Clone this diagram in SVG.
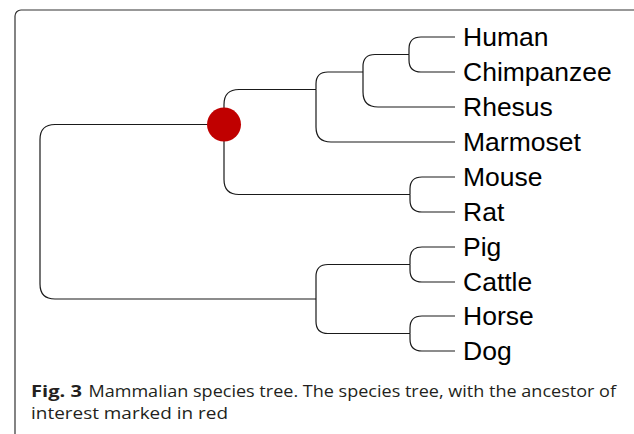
<svg xmlns="http://www.w3.org/2000/svg" width="634" height="434" viewBox="0 0 634 434">
<style>
.e{fill:none;stroke:#1a1a1a;stroke-width:1.2}
.lbl{font-family:"Liberation Sans",Arial,sans-serif;font-size:26.5px;fill:#000}
.cap{font-family:"Open Sans","Noto Sans",sans-serif;font-size:16.5px;fill:#231f20}
.capb{font-weight:bold}
</style>
<rect x="0" y="0" width="634" height="434" fill="#fff"/>
<rect x="15" y="10" width="700" height="500" rx="6" fill="none" stroke="#333" stroke-width="1.2"/>
<g id="connectors">
<path class="e" d="M40 212 V139.5 Q40 124.5 55 124.5 H224"/>
<path class="e" d="M40 212 V284 Q40 299 55 299 H316"/>
<path class="e" d="M224 124.5 V104.5 Q224 89.5 239 89.5 H316"/>
<path class="e" d="M224 124.5 V179.5 Q224 194.5 239 194.5 H410"/>
<path class="e" d="M316 89.5 V84 Q316 72 328 72 H363"/>
<path class="e" d="M316 89.5 V127 Q316 142 331 142 H455"/>
<path class="e" d="M363 72 V66.5 Q363 54.5 375 54.5 H409"/>
<path class="e" d="M363 72 V92 Q363 107 378 107 H455"/>
<path class="e" d="M409 54.5 V49 Q409 37 421 37 H455"/>
<path class="e" d="M409 54.5 V60 Q409 72 421 72 H455"/>
<path class="e" d="M410 194.5 V189 Q410 177 422 177 H455"/>
<path class="e" d="M410 194.5 V200 Q410 212 422 212 H455"/>
<path class="e" d="M316 299 V276.5 Q316 264.5 328 264.5 H410"/>
<path class="e" d="M316 299 V321.5 Q316 333.5 328 333.5 H410"/>
<path class="e" d="M410 264.5 V259 Q410 247 422 247 H455"/>
<path class="e" d="M410 264.5 V270 Q410 282 422 282 H455"/>
<path class="e" d="M410 333.5 V328 Q410 316 422 316 H455"/>
<path class="e" d="M410 333.5 V339 Q410 351 422 351 H455"/>
</g>
<g id="ancestor"><circle cx="224" cy="124.5" r="17" fill="#c00000"/></g>
<g id="human"><text class="lbl" x="463" y="46">Human</text></g>
<g id="chimpanzee"><text class="lbl" x="463" y="81">Chimpanzee</text></g>
<g id="rhesus"><text class="lbl" x="463" y="116">Rhesus</text></g>
<g id="marmoset"><text class="lbl" x="463" y="151">Marmoset</text></g>
<g id="mouse"><text class="lbl" x="463" y="186">Mouse</text></g>
<g id="rat"><text class="lbl" x="463" y="221">Rat</text></g>
<g id="pig"><text class="lbl" x="463" y="256">Pig</text></g>
<g id="cattle"><text class="lbl" x="463" y="291">Cattle</text></g>
<g id="horse"><text class="lbl" x="463" y="325">Horse</text></g>
<g id="dog"><text class="lbl" x="463" y="360">Dog</text></g>
<g id="caption">
<text class="cap capb" x="31" y="397" textLength="51" lengthAdjust="spacingAndGlyphs">Fig. 3</text>
<text class="cap" x="88.5" y="397" textLength="527.5" lengthAdjust="spacingAndGlyphs">Mammalian species tree. The species tree, with the ancestor of</text>
<text class="cap" x="31" y="419" textLength="197" lengthAdjust="spacingAndGlyphs">interest marked in red</text>
</g>
</svg>
